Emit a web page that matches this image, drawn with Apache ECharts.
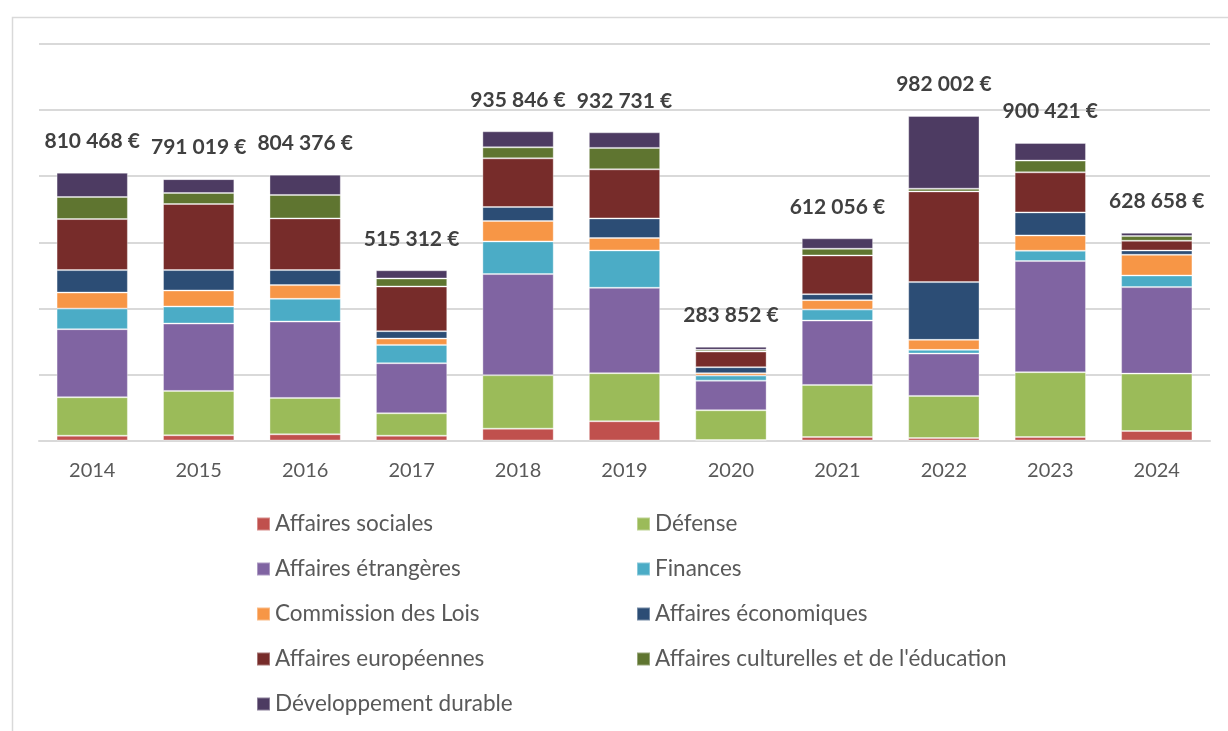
<!DOCTYPE html>
<html lang="fr">
<head>
<meta charset="utf-8">
<title>Dépenses par commission</title>
<script src="https://cdn.jsdelivr.net/npm/echarts@6/dist/echarts.min.js"></script>
<style>
  html, body { margin: 0; padding: 0; background: #fff; }
  #chart { width: 1228px; height: 731px; }
</style>
</head>
<body>
<div id="chart"></div>
<script>
const years = ['2014', '2015', '2016', '2017', '2018', '2019', '2020', '2021', '2022', '2023', '2024']
const totals = [810468, 791019, 804376, 515312, 935846, 932731, 283852, 612056, 982002, 900421, 628658]

const affairesSociales = [14500, 15800, 18800, 14500, 35800, 58200, 1500, 10600, 7600, 10600, 28800]
const defense = [116400, 134200, 110000, 67900, 161800, 145500, 90000, 157600, 127300, 196100, 173600]
const affairesEtrangeres = [206000, 204000, 231200, 151500, 306100, 258500, 89700, 194800, 128200, 336400, 261800]
const finances = [62400, 51500, 68800, 55500, 98800, 113000, 15200, 33300, 11200, 31200, 35200]
const commissionLois = [48500, 48500, 41500, 19100, 61800, 37600, 7300, 28500, 30300, 46400, 62700]
const affairesEconomiques = [67900, 61800, 45500, 22400, 42400, 59400, 18200, 18200, 174800, 69700, 13000]
const affairesEuropeennes = [154500, 200000, 156400, 135200, 147300, 148500, 47300, 117000, 274500, 121200, 29400]
const affairesCulturelles = [66700, 33300, 70900, 24200, 33300, 64800, 5200, 20300, 8200, 35500, 14200]
const developpementDurable = [73600, 41900, 61300, 25000, 48500, 47200, 9400, 31700, 219900, 53300, 10000]

const seriesDefs = [
  { name: 'Affaires sociales', data: affairesSociales, color: '#C0504D' },
  { name: 'Défense', data: defense, color: '#9BBB59' },
  { name: 'Affaires étrangères', data: affairesEtrangeres, color: '#8064A2' },
  { name: 'Finances', data: finances, color: '#4BACC6' },
  { name: 'Commission des Lois', data: commissionLois, color: '#F79646' },
  { name: 'Affaires économiques', data: affairesEconomiques, color: '#2C4D75' },
  { name: 'Affaires européennes', data: affairesEuropeennes, color: '#772C2A' },
  { name: "Affaires culturelles et de l'éducation", data: affairesCulturelles, color: '#5F7530' },
  { name: 'Développement durable', data: developpementDurable, color: '#4D3B62' },
]

const fontFamily = 'Lato, "Open Sans", sans-serif'

function formatEuro(v) {
  return String(v).replace(/\B(?=(\d{3})+(?!\d))/g, ' ') + ' €'
}

const series = seriesDefs.map((s, i) => {
  const isLast = i === seriesDefs.length - 1
  return {
    name: s.name,
    type: 'bar',
    stack: 'total',
    barCategoryGap: '33%',
    data: s.data,
    itemStyle: {
      color: s.color,
      borderColor: 'rgba(255,255,255,0.35)',
      borderWidth: 1,
    },
    // totals sit on top of the last stacked series
    label: isLast
      ? {
          show: true,
          position: 'top',
          distance: 21,
          formatter: (p) => formatEuro(totals[p.dataIndex]),
          color: '#404040',
          fontFamily: fontFamily,
          fontWeight: 'bold',
          fontSize: 21,
        }
      : { show: false },
  }
})

const legendText = { color: '#595959', fontFamily: fontFamily, fontSize: 22.5, lineHeight: 24 }

const chart = echarts.init(document.getElementById('chart'), null, { renderer: 'canvas' })

const option = {
  animation: false,
  backgroundColor: '#ffffff',
  color: seriesDefs.map((s) => s.color),
  graphic: [
    {
      type: 'rect',
      left: 10,
      top: 15,
      shape: { width: 1300, height: 800 },
      style: { fill: 'none', stroke: '#d9d9d9', lineWidth: 1.5 },
      silent: true,
    },
  ],
  grid: {
    left: 39,
    right: 18,
    top: 44,
    bottom: 290.5,
    containLabel: false,
  },
  legend: [
    {
      orient: 'vertical',
      left: 256,
      top: 512,
      padding: 0,
      itemWidth: 13,
      itemHeight: 13,
      itemGap: 21,
      icon: 'rect',
      textStyle: legendText,
      data: ['Affaires sociales', 'Affaires étrangères', 'Commission des Lois', 'Affaires européennes', 'Développement durable'],
    },
    {
      orient: 'vertical',
      left: 636,
      top: 512,
      padding: 0,
      itemWidth: 13,
      itemHeight: 13,
      itemGap: 21,
      icon: 'rect',
      textStyle: legendText,
      data: ['Défense', 'Finances', 'Affaires économiques', "Affaires culturelles et de l'éducation"],
    },
  ],
  xAxis: {
    type: 'category',
    data: years,
    axisLine: { show: true, lineStyle: { color: '#d9d9d9', width: 2 } },
    axisTick: { show: false },
    axisLabel: {
      color: '#595959',
      fontFamily: fontFamily,
      fontSize: 20,
      margin: 20,
    },
  },
  yAxis: {
    type: 'value',
    min: 0,
    max: 1200000,
    interval: 200000,
    axisLabel: { show: false },
    axisLine: { show: false },
    axisTick: { show: false },
    splitLine: { lineStyle: { color: '#d9d9d9', width: 2 } },
  },
  series: series,
}

chart.setOption(option)

window.addEventListener('resize', () => chart.resize())
</script>
</body>
</html>
